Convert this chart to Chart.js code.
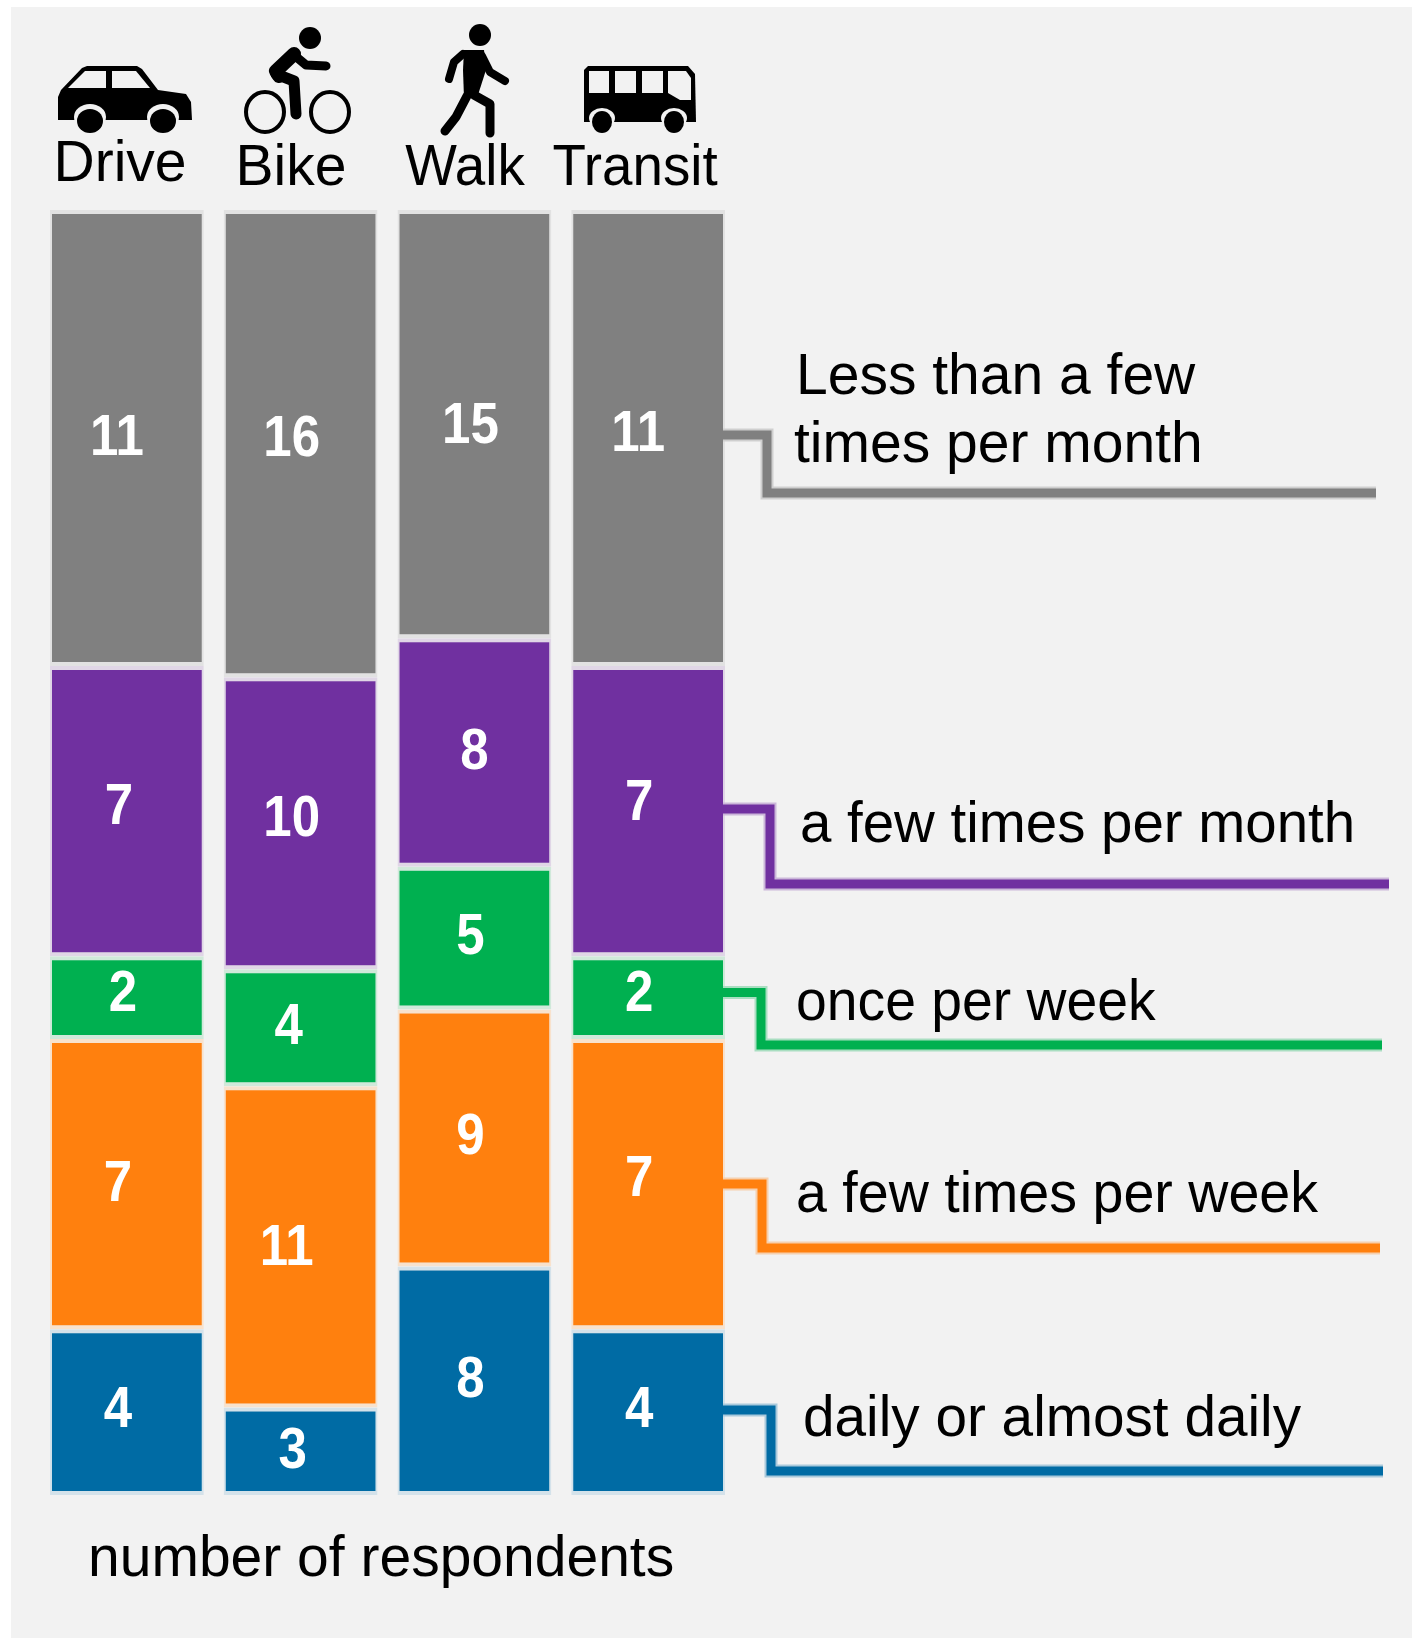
<!DOCTYPE html>
<html>
<head>
<meta charset="utf-8">
<title>Commute frequency</title>
<script src="https://cdn.jsdelivr.net/npm/chart.js@4/dist/chart.umd.min.js"></script>
<style>
    html, body { margin: 0; padding: 0; background: #fff; }
    #panel { position: absolute; left: 11px; top: 7px; width: 1401px; height: 1631px; background: #f2f2f2; }
    #chart { position: absolute; left: 0; top: 0; filter: blur(0.7px); }
</style>
</head>
<body>
<div id="panel"></div>
<canvas id="chart" width="1412" height="1638"></canvas>
<script>
const modes = ['Drive', 'Bike', 'Walk', 'Transit'];

// number of respondents, stacked bottom to top
const daily = [4, 3, 8, 4];
const fewPerWeek = [7, 11, 9, 7];
const oncePerWeek = [2, 4, 5, 2];
const fewPerMonth = [7, 10, 8, 7];
const lessThanFew = [11, 16, 15, 11];

const seriesNames = ['daily or almost daily', 'a few times per week', 'once per week', 'a few times per month', 'Less than a few times per month'];
const seriesCounts = [daily, fewPerWeek, oncePerWeek, fewPerMonth, lessThanFew];
const seriesColors = ['#006ba4', '#ff800e', '#00b050', '#7030a0', '#808080'];
const barHalos = ['#d4e2ea', '#f8e2cd', '#d0e9da', '#e0d6e6', '#e2e2e2'];
const lineHalos = ['#a9c9db', '#f6d0ae', '#a9dec1', '#cbb7d9', '#cfcfcf'];

const PANEL = '#f2f2f2';
const FONT = '"Liberation Sans", Arial, sans-serif';

// every column is drawn as share of its own total
const totals = modes.map((m, i) => seriesCounts.reduce((sum, s) => sum + s[i], 0));

// helper for the narrow looking text of the original
function text(ctx, str, x, y, size, squeeze, color, weight) {
    ctx.save();
    ctx.translate(x, y);
    ctx.scale(squeeze, 1);
    ctx.font = (weight || 'normal') + ' ' + size + 'px ' + FONT;
    ctx.fillStyle = color || '#000';
    ctx.textAlign = 'left';
    ctx.textBaseline = 'alphabetic';
    ctx.fillText(str, 0, 0);
    ctx.restore();
}

function centered(ctx, str, x, y, size, squeeze, color, weight) {
    ctx.save();
    ctx.font = (weight || 'normal') + ' ' + size + 'px ' + FONT;
    const w = ctx.measureText(str).width * squeeze;
    ctx.restore();
    text(ctx, str, x - w / 2, y, size, squeeze, color, weight);
}

function poly(ctx, pts) {
    ctx.beginPath();
    pts.forEach((p, i) => i ? ctx.lineTo(p[0], p[1]) : ctx.moveTo(p[0], p[1]));
}

function ellipse(ctx, x, y, rx, ry) {
    ctx.beginPath();
    ctx.ellipse(x, y, rx, ry, 0, 0, Math.PI * 2);
}

function drawCar(ctx) {
    ctx.fillStyle = '#000';
    poly(ctx, [[58, 97], [61, 90], [82, 68], [87, 66], [137, 66], [142, 69], [158, 90], [186, 94], [191, 102], [192, 120], [58, 120]]);
    ctx.fill();
    ctx.fillStyle = PANEL;
    poly(ctx, [[68, 88], [85, 71], [106, 71], [106, 88]]);
    ctx.fill();
    poly(ctx, [[112, 71], [136, 71], [150, 88], [112, 88]]);
    ctx.fill();
    [90, 163].forEach(x => {
        ctx.fillStyle = PANEL;
        ellipse(ctx, x, 117, 16, 13);
        ctx.fill();
        ctx.fillStyle = '#000';
        ellipse(ctx, x, 121, 13, 12);
        ctx.fill();
    });
}

function drawBike(ctx) {
    ctx.strokeStyle = '#000';
    ctx.lineWidth = 4;
    [265, 330].forEach(x => {
        ellipse(ctx, x, 112, 19, 20);
        ctx.stroke();
    });
    ctx.fillStyle = '#000';
    ellipse(ctx, 310, 38, 11, 11);
    ctx.fill();
    ctx.lineCap = 'round';
    ctx.lineJoin = 'round';
    ctx.lineWidth = 14;
    poly(ctx, [[294, 54], [276, 71], [279, 76]]);
    ctx.stroke();
    ctx.lineWidth = 11;
    poly(ctx, [[276, 74], [294, 81], [296, 114]]);
    ctx.stroke();
    ctx.lineWidth = 9;
    poly(ctx, [[294, 55], [306, 65], [326, 66]]);
    ctx.stroke();
    ctx.lineCap = 'butt';
}

function drawWalker(ctx) {
    ctx.fillStyle = '#000';
    ellipse(ctx, 480, 35, 11, 11);
    ctx.fill();
    poly(ctx, [[464, 50], [484, 50], [486, 70], [477, 98], [464, 98], [463, 70]]);
    ctx.fill();
    ctx.strokeStyle = '#000';
    ctx.lineCap = 'round';
    ctx.lineJoin = 'round';
    ctx.lineWidth = 8;
    poly(ctx, [[463, 54], [454, 62], [449, 79]]);
    ctx.stroke();
    poly(ctx, [[482, 56], [490, 72], [505, 81]]);
    ctx.stroke();
    ctx.lineWidth = 9;
    poly(ctx, [[467, 96], [456, 117], [445, 131]]);
    ctx.stroke();
    poly(ctx, [[474, 95], [490, 104], [490, 133]]);
    ctx.stroke();
    ctx.lineCap = 'butt';
}

function drawBus(ctx) {
    ctx.fillStyle = '#000';
    poly(ctx, [[584, 70], [588, 66], [688, 66], [695, 74], [696, 122], [584, 122]]);
    ctx.fill();
    ctx.fillStyle = PANEL;
    ctx.fillRect(589, 71, 20, 22);
    ctx.fillRect(615, 71, 21, 22);
    ctx.fillRect(642, 71, 21, 22);
    poly(ctx, [[668, 71], [686, 71], [691, 78], [691, 100], [680, 100], [668, 93]]);
    ctx.fill();
    [602, 674].forEach(x => {
        ctx.fillStyle = PANEL;
        ellipse(ctx, x, 118, 13, 10);
        ctx.fill();
        ctx.fillStyle = '#000';
        ellipse(ctx, x, 122, 10, 11);
        ctx.fill();
    });
}

// hand nudges for the numbers inside the bars, [dx, dy] per series and column
const labelNudge = [
    [[-9, -1], [-8, 1], [-4, 0], [-9, -1]],
    [[-9, 1], [-14, 2], [-4, 0], [-9, -4]],
    [[-4, -3], [-12, 0], [-4, 0], [-9, -3]],
    [[-8, -3], [-9, -3], [0, 0], [-9, -7]],
    [[-10, 1], [-9, -4], [-4, 3], [-10, -3]]
];

// numbers inside the bars, read from the counts
const valueLabels = {
    id: 'valueLabels',
    afterDatasetsDraw(c) {
        const ctx = c.ctx;
        seriesCounts.forEach((counts, d) => {
            c.getDatasetMeta(d).data.forEach((bar, i) => {
                const cy = (bar.y + bar.base) / 2;
                const n = labelNudge[d][i];
                centered(ctx, String(counts[i]), bar.x + n[0], cy + 16 + n[1], 58, 0.88, '#fff', 'bold');
            });
        });
    }
};

// elbow lines start near the middle of the Transit segment
const leaderLines = [
    { rise: 3, elbow: 767, low: 493, end: 1376 },
    { rise: 2, elbow: 770, low: 884, end: 1389 },
    { rise: 5, elbow: 761, low: 1045, end: 1382 },
    { rise: 0, elbow: 762, low: 1248, end: 1380 },
    { rise: 2, elbow: 771, low: 1471, end: 1383 }
];
// same order as leaderLines
const leaderOrder = [4, 3, 2, 1, 0];

const annotations = {
    id: 'annotations',
    afterDraw(c) {
        const ctx = c.ctx;
        leaderOrder.forEach((d, n) => {
            const bar = c.getDatasetMeta(d).data[3];
            const l = leaderLines[n];
            const y = (bar.y + bar.base) / 2 - l.rise;
            const pts = [[bar.x + bar.width / 2 - 2, y], [l.elbow, y], [l.elbow, l.low], [l.end, l.low]];
            ctx.lineJoin = 'miter';
            ctx.strokeStyle = lineHalos[d];
            ctx.lineWidth = 13;
            poly(ctx, pts);
            ctx.stroke();
            ctx.strokeStyle = seriesColors[d];
            ctx.lineWidth = 9;
            poly(ctx, pts);
            ctx.stroke();
        });

        text(ctx, 'Less than a few', 796, 394, 57, 1);
        text(ctx, 'times per month', 794, 462, 57, 1);
        text(ctx, seriesNames[3], 800, 842, 57, 0.99);
        text(ctx, seriesNames[2], 796, 1020, 57, 0.97);
        text(ctx, seriesNames[1], 796, 1212, 57, 0.975);
        text(ctx, seriesNames[0], 803, 1436, 57, 0.995);
        text(ctx, 'number of respondents', 88, 1576, 57, 1);

        centered(ctx, modes[0], 120, 181, 57, 1);
        centered(ctx, modes[1], 291, 185, 57, 1);
        centered(ctx, modes[2], 465, 185, 57, 0.96);
        centered(ctx, modes[3], 635, 185, 57, 0.96);

        drawCar(ctx);
        drawBike(ctx);
        drawWalker(ctx);
        drawBus(ctx);
    }
};

const ctx = document.getElementById('chart').getContext('2d');
const chart = new Chart(ctx, {
    type: 'bar',
    data: {
        labels: modes,
        datasets: seriesNames.map((name, d) => ({
            label: name,
            data: seriesCounts[d].map((v, i) => v / totals[i] * 100),
            backgroundColor: seriesColors[d],
            borderColor: barHalos[d],
            borderWidth: { top: 4, bottom: 4, left: 2, right: 2 },
            borderSkipped: false,
            barPercentage: 0.885,
            categoryPercentage: 1
        }))
    },
    options: {
        responsive: false,
        animation: false,
        layout: {
            padding: { left: 40, right: 677, top: 210, bottom: 143 }
        },
        scales: {
            x: { stacked: true, display: false },
            y: { stacked: true, display: false, min: 0, max: 100 }
        },
        plugins: {
            legend: { display: false },
            tooltip: { enabled: false }
        }
    },
    plugins: [valueLabels, annotations]
});
</script>
</body>
</html>
